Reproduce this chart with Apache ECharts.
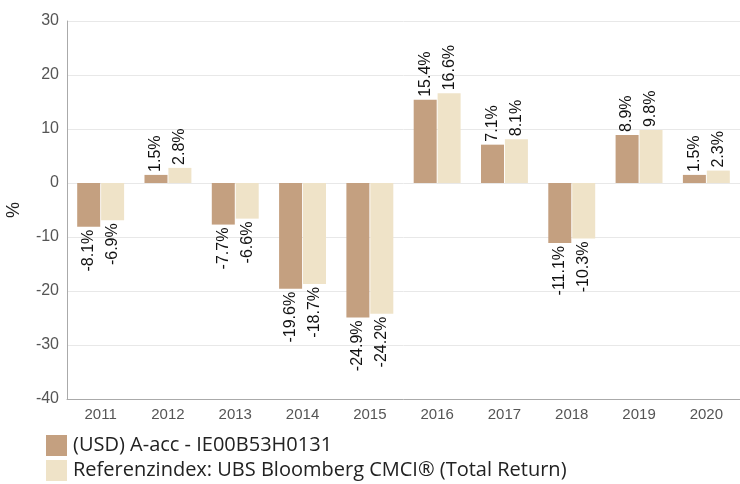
<!DOCTYPE html>
<html>
<head>
<meta charset="utf-8">
<script src="https://cdn.jsdelivr.net/npm/echarts@6/dist/echarts.min.js"></script>
<style>
  html, body { margin: 0; padding: 0; background: #fff; }
  #chart { width: 740px; height: 484px; }
</style>
</head>
<body>
<div id="chart"></div>
<script>
const years = ['2011', '2012', '2013', '2014', '2015', '2016', '2017', '2018', '2019', '2020']
const fundValues = [-8.1, 1.5, -7.7, -19.6, -24.9, 15.4, 7.1, -11.1, 8.9, 1.5]
const indexValues = [-6.9, 2.8, -6.6, -18.7, -24.2, 16.6, 8.1, -10.3, 9.8, 2.3]
const seriesNames = ['(USD) A-acc - IE00B53H0131', 'Referenzindex: UBS Bloomberg CMCI® (Total Return)']
const colors = ['#C4A080', '#EFE3C8']

// negative bars get their label below the bar end
let withLabels = values => values.map(v => ({
  value: v,
  label: v < 0
    ? { position: 'bottom', align: 'right' }
    : { position: 'top', align: 'left' }
}))

let chart = echarts.init(document.getElementById('chart'))
chart.setOption({
  animation: false,
  color: colors,
  grid: { left: 67, right: 0, top: 21, bottom: 85, outerBoundsMode: 'none', containLabel: false },
  legend: {
    orient: 'vertical',
    left: 46,
    top: 435,
    padding: 0,
    itemWidth: 21,
    itemHeight: 21,
    itemGap: 4,
    icon: 'rect',
    selectedMode: false,
    textStyle: { fontFamily: 'Open Sans', fontSize: 20, color: '#222', padding: [0, 0, 0, 1] },
    data: seriesNames
  },
  xAxis: {
    type: 'category',
    data: years,
    axisLine: { onZero: false, lineStyle: { color: '#aaa' } },
    axisTick: { show: false },
    axisLabel: { fontFamily: 'Liberation Sans', fontSize: 15, color: '#555', margin: 8 }
  },
  yAxis: {
    type: 'value',
    min: -40,
    max: 30,
    interval: 10,
    name: '%',
    nameLocation: 'middle',
    nameGap: 44,
    nameRotate: 90,
    nameTextStyle: { fontFamily: 'Liberation Sans', fontSize: 18, color: '#222' },
    axisLine: { show: true, lineStyle: { color: '#aaa' } },
    axisTick: { show: false },
    axisLabel: { fontFamily: 'Liberation Sans', fontSize: 16, color: '#555', margin: 8 },
    splitLine: { lineStyle: { color: '#e8e8e8' } }
  },
  series: [fundValues, indexValues].map((vals, i) => ({
    name: seriesNames[i],
    type: 'bar',
    barWidth: 23,
    barGap: '4%',
    itemStyle: { color: colors[i] },
    label: {
      show: true,
      rotate: 90,
      distance: 3,
      verticalAlign: 'middle',
      fontFamily: 'Liberation Sans',
      fontSize: 16,
      color: '#111',
      formatter: p => p.value.toFixed(1) + '%'
    },
    data: withLabels(vals)
  }))
})
</script>
</body>
</html>
